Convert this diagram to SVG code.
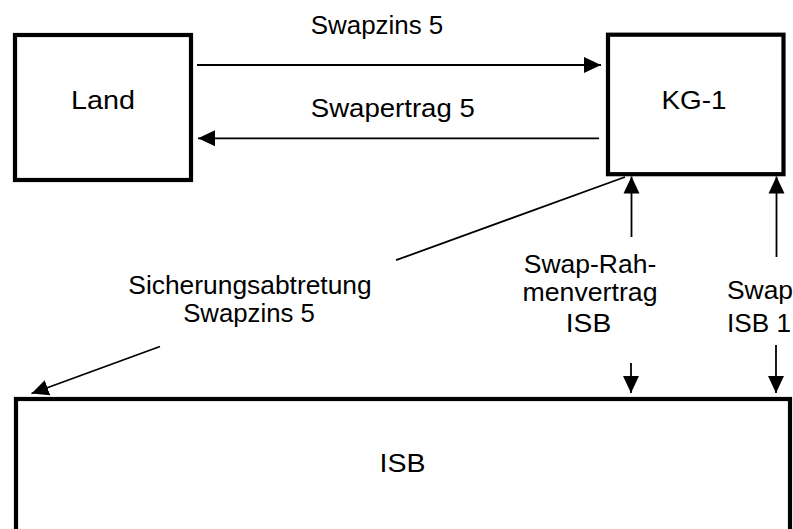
<svg xmlns="http://www.w3.org/2000/svg" width="793" height="529" viewBox="0 0 793 529">
<style>
  .box { fill: #fff; stroke: #000; stroke-width: 4.2; }
  .lbl { font-family: "Liberation Sans", Arial, sans-serif; font-size: 26px; fill: #000; }
  .mid { text-anchor: middle; }
  .conn line { stroke: #000; stroke-width: 1.8; fill: none; }
</style>
<defs>
  <marker id="ah" markerUnits="userSpaceOnUse" markerWidth="17" markerHeight="17" viewBox="0 0 17 17" refX="17" refY="8.5" orient="auto">
    <path d="M0,0.5 L17,8.5 L0,16.5 Z" fill="#000"/>
  </marker>
</defs>
<rect width="793" height="529" fill="#fff"/>
<g id="land">
  <rect class="box" x="15" y="35" width="176" height="145"/>
  <text class="lbl mid" x="103" y="108.5" textLength="64" lengthAdjust="spacingAndGlyphs">Land</text>
</g>
<g id="kg1">
  <rect class="box" x="608" y="34.7" width="175.5" height="139.5"/>
  <text class="lbl mid" x="694" y="108.5" textLength="65" lengthAdjust="spacingAndGlyphs">KG-1</text>
</g>
<g id="isb">
  <rect class="box" x="16" y="399" width="774" height="160"/>
  <text class="lbl mid" x="402.5" y="472" textLength="46" lengthAdjust="spacingAndGlyphs">ISB</text>
</g>
<g class="conn" id="connectors">
  <line x1="197" y1="65" x2="601" y2="65" marker-end="url(#ah)"/>
  <line x1="599" y1="138.3" x2="198" y2="138.3" marker-end="url(#ah)"/>
  <line x1="625" y1="177" x2="396" y2="260.2"/>
  <line x1="160" y1="346.5" x2="31.5" y2="393.5" marker-end="url(#ah)"/>
  <line x1="631.5" y1="237" x2="631.5" y2="176.5" marker-end="url(#ah)"/>
  <line x1="776.5" y1="257" x2="776.5" y2="176.5" marker-end="url(#ah)"/>
  <line x1="631" y1="363" x2="631" y2="393" marker-end="url(#ah)"/>
  <line x1="776" y1="345" x2="776" y2="393" marker-end="url(#ah)"/>
</g>
<g id="labels">
  <text class="lbl mid" x="377" y="34" textLength="132.6" lengthAdjust="spacingAndGlyphs">Swapzins 5</text>
  <text class="lbl mid" x="392.8" y="116.5" textLength="164" lengthAdjust="spacingAndGlyphs">Swapertrag 5</text>
  <text class="lbl mid" x="250" y="294" textLength="243.4" lengthAdjust="spacingAndGlyphs">Sicherungsabtretung</text>
  <text class="lbl mid" x="249" y="321.5" textLength="131.7" lengthAdjust="spacingAndGlyphs">Swapzins 5</text>
  <text class="lbl mid" x="590" y="272.5" textLength="132.5" lengthAdjust="spacingAndGlyphs">Swap-Rah-</text>
  <text class="lbl mid" x="590" y="300.5" textLength="135" lengthAdjust="spacingAndGlyphs">menvertrag</text>
  <text class="lbl mid" x="588.5" y="332" textLength="45.5" lengthAdjust="spacingAndGlyphs">ISB</text>
  <text class="lbl" x="727" y="298.5" textLength="66" lengthAdjust="spacingAndGlyphs">Swap</text>
  <text class="lbl" x="727" y="332" textLength="64" lengthAdjust="spacingAndGlyphs">ISB 1</text>
</g>
</svg>
